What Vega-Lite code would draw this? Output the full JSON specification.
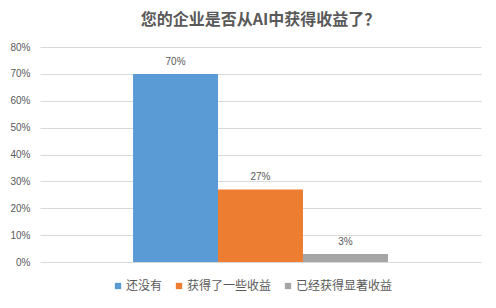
{
  "$schema": "https://vega.github.io/schema/vega-lite/v6.json",
  "width": 441,
  "height": 215,
  "autosize": {"type": "none"},
  "padding": {"left": 40, "top": 47, "right": 15, "bottom": 46},
  "background": "white",
  "config": {
    "font": "Noto Sans CJK SC",
    "view": {"stroke": null}
  },
  "title": {
    "text": "您的企业是否从AI中获得收益了？",
    "fontSize": 16,
    "fontWeight": "bold",
    "color": "#595959",
    "anchor": "middle",
    "frame": "group",
    "offset": 14,
    "font": "Noto Sans CJK SC"
  },
  "data": {
    "values": [
      {"group": "AI收益", "category": "还没有", "value": 0.70},
      {"group": "AI收益", "category": "获得了一些收益", "value": 0.27},
      {"group": "AI收益", "category": "已经获得显著收益", "value": 0.03}
    ]
  },
  "encoding": {
    "x": {
      "field": "group",
      "type": "nominal",
      "scale": {"paddingInner": 0, "paddingOuter": 0.365},
      "axis": null
    },
    "xOffset": {
      "field": "category",
      "type": "nominal",
      "sort": null,
      "scale": {"paddingInner": 0, "paddingOuter": 0}
    },
    "y": {
      "field": "value",
      "type": "quantitative",
      "scale": {"domain": [0, 0.8]},
      "axis": {
        "format": ".0%",
        "values": [0, 0.1, 0.2, 0.3, 0.4, 0.5, 0.6, 0.7, 0.8],
        "labelOverlap": false,
        "title": null,
        "domain": false,
        "ticks": false,
        "labelPadding": 10,
        "labelColor": "#595959",
        "labelFontSize": 10,
        "labelFont": "Liberation Sans",
        "gridColor": "#d9d9d9"
      }
    }
  },
  "layer": [
    {
      "mark": {"type": "bar"},
      "encoding": {
        "color": {
          "field": "category",
          "type": "nominal",
          "sort": null,
          "scale": {
            "domain": ["还没有", "获得了一些收益", "已经获得显著收益"],
            "range": ["#5B9BD5", "#ED7D31", "#A5A5A5"]
          },
          "legend": {
            "title": null,
            "orient": "none",
            "direction": "horizontal",
            "legendX": 72,
            "legendY": 233,
            "symbolType": "square",
            "symbolSize": 40,
            "symbolStrokeWidth": 0,
            "labelFontSize": 12,
            "labelColor": "#595959",
            "labelOffset": 2,
            "columnPadding": 10,
            "labelFont": "Noto Sans CJK SC"
          }
        }
      }
    },
    {
      "mark": {"type": "text", "dy": -12, "fontSize": 10, "color": "#595959", "font": "Liberation Sans"},
      "encoding": {
        "text": {"field": "value", "type": "quantitative", "format": ".0%"}
      }
    }
  ]
}
